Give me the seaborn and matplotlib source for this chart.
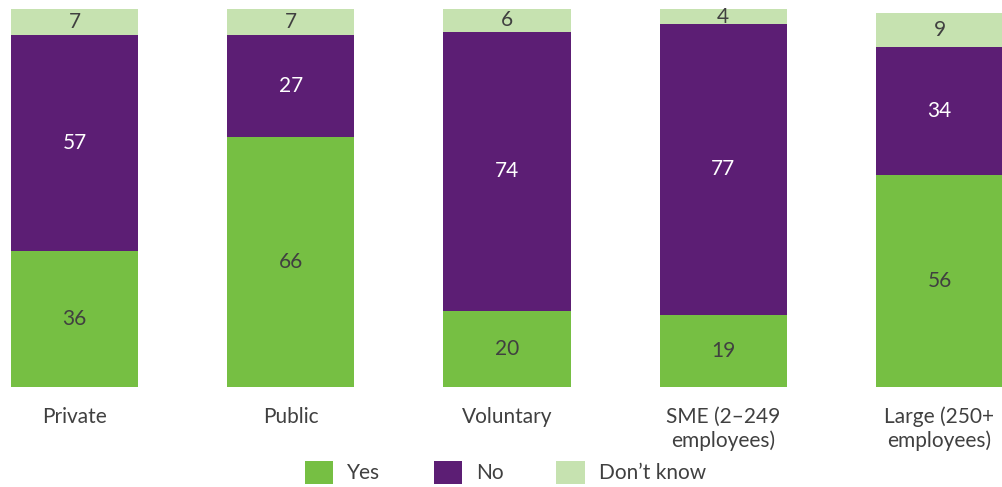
import matplotlib
matplotlib.use("Agg")
import matplotlib.pyplot as plt
import seaborn as sns
import pandas as pd
import numpy as np
from matplotlib.patches import Patch

categories = ["Private", "Public", "Voluntary", "SME (2\u2013249\nemployees)", "Large (250+\nemployees)"]
yes = [36, 66, 20, 19, 56]
no = [57, 27, 74, 77, 34]
dont_know = [7, 7, 6, 4, 9]
series_names = ["Yes", "No", "Don\u2019t know"]

c_yes = "#76bf43"
c_no = "#5c1e74"
c_dk = "#c6e2b0"
txt_dark = "#404040"

sns.set_theme(style="white")
plt.rcParams['font.family'] = ['Lato', 'DejaVu Sans']

fig = plt.figure(figsize=(10.03, 4.87), dpi=100)
W, H = 1003, 487
ax = fig.add_axes([0, 100.5 / H, 1, 377.5 / H])

df = pd.DataFrame({"cat": categories, "yes": yes, "no": no, "dk": dont_know})
df["yn"] = df["yes"] + df["no"]
df["tot"] = df["yn"] + df["dk"]

bw = 127 / 216.25
for col, colr in [("tot", c_dk), ("yn", c_no), ("yes", c_yes)]:
    sns.barplot(data=df, x="cat", y=col, order=categories, color=colr,
                width=bw, linewidth=0, saturation=1, ax=ax)

fs = 15
for i in range(len(categories)):
    y0 = 0
    for val, tc in [(yes[i], txt_dark), (no[i], "white"), (dont_know[i], txt_dark)]:
        ax.text(i, y0 + val / 2, str(val), ha="center", va="center",
                fontsize=fs, color=tc)
        y0 += val

ax.set_xlim(-74.5 / 216.25, 4 + (1003 - 939.5) / 216.25)
ax.set_ylim(0, 100)
ax.set_xlabel("")
ax.set_ylabel("")
ax.set_yticks([])
ax.tick_params(axis="x", length=0, pad=14.5, labelsize=fs, labelcolor=txt_dark)
ax.set_xticks(range(len(categories)))
ax.set_xticklabels(categories, linespacing=1.2)
for s in ax.spines.values():
    s.set_visible(False)
ax.set_facecolor("none")

handles = [Patch(facecolor=c, edgecolor="none") for c in (c_yes, c_no, c_dk)]
leg = fig.legend(handles, series_names, loc="center", bbox_to_anchor=(505.5 / W, 14.5 / H),
                 ncol=3, frameon=False, fontsize=fs, handlelength=1.35, handleheight=1.35,
                 handletextpad=0.67, columnspacing=2.55, borderpad=0, borderaxespad=0)
for t in leg.get_texts():
    t.set_color(txt_dark)

fig.savefig("out.png", dpi=100)
